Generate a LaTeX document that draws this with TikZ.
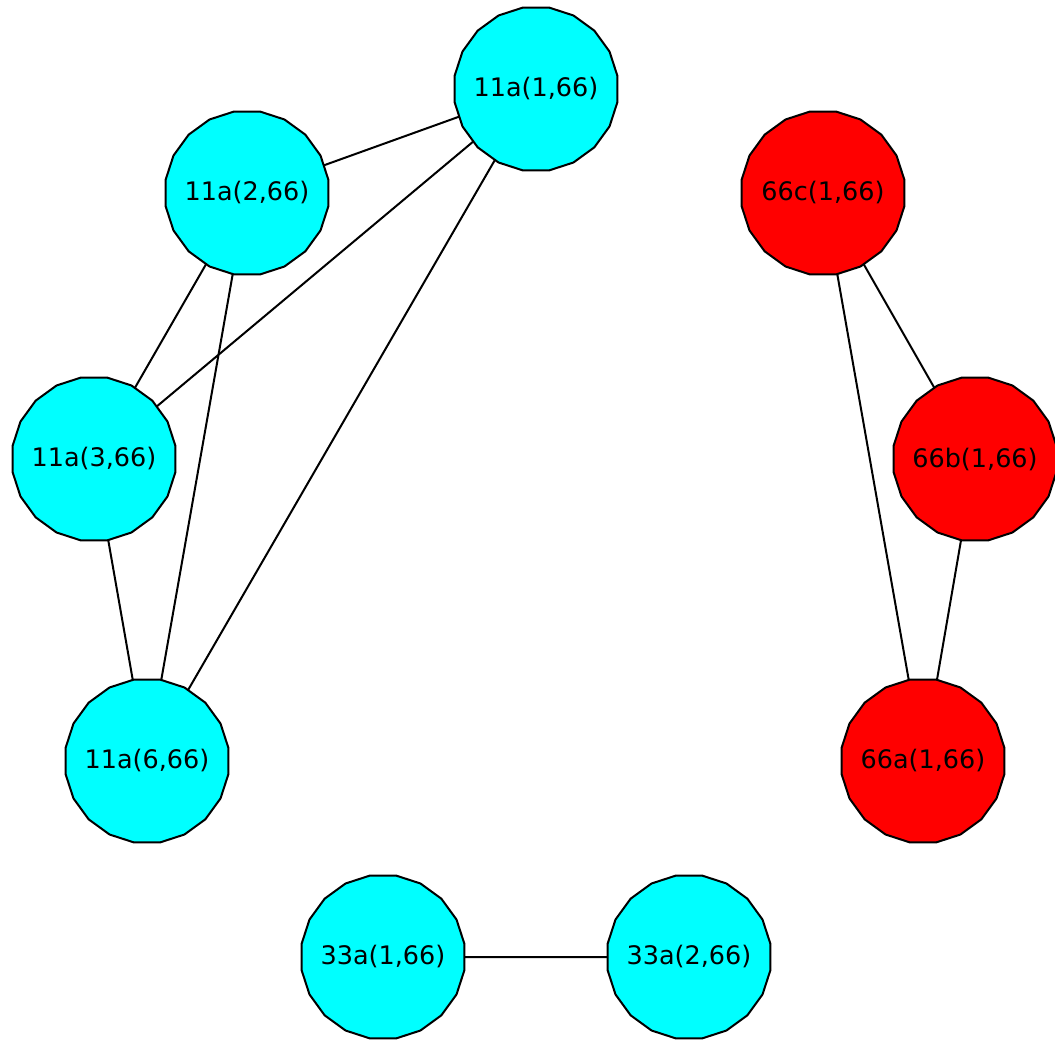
\documentclass[tikz,border=0pt]{standalone}
\usepackage{fontspec}
\setmainfont{DejaVu Sans}
\usetikzlibrary{shapes.geometric}
\definecolor{nodecyan}{RGB}{0,255,255}
\definecolor{nodered}{RGB}{255,0,0}
\newcommand{\vtxt}[1]{\makebox[0pt]{#1}}
\begin{document}
\begin{tikzpicture}[x=1pt,y=-1pt,
  vert/.style={regular polygon, regular polygon sides=20, minimum size=165pt, inner sep=0pt, outer sep=0pt, draw=black, line width=2pt, font=\fontsize{25.5}{30}\selectfont},
  cy/.style={vert, fill=nodecyan},
  rd/.style={vert, fill=nodered},
  edge/.style={line width=2pt}]
\useasboundingbox (0,0) rectangle (1055,1040);
\node[cy] (a1) at (536,89) {\vtxt{11a(1,66)}};
\node[cy] (a2) at (247,193) {\vtxt{11a(2,66)}};
\node[cy] (a3) at (94,459) {\vtxt{11a(3,66)}};
\node[cy] (a6) at (147,761) {\vtxt{11a(6,66)}};
\node[cy] (b1) at (383,957) {\vtxt{33a(1,66)}};
\node[cy] (b2) at (689,957) {\vtxt{33a(2,66)}};
\node[rd] (ca) at (923,761) {\vtxt{66a(1,66)}};
\node[rd] (cb) at (975,459) {\vtxt{66b(1,66)}};
\node[rd] (cc) at (823,193) {\vtxt{66c(1,66)}};
\draw[edge] (a1) -- (a2);
\draw[edge] (a1) -- (a3);
\draw[edge] (a1) -- (a6);
\draw[edge] (a2) -- (a3);
\draw[edge] (a2) -- (a6);
\draw[edge] (a3) -- (a6);
\draw[edge] (b1) -- (b2);
\draw[edge] (cc) -- (cb);
\draw[edge] (cc) -- (ca);
\draw[edge] (cb) -- (ca);
\end{tikzpicture}
\end{document}
